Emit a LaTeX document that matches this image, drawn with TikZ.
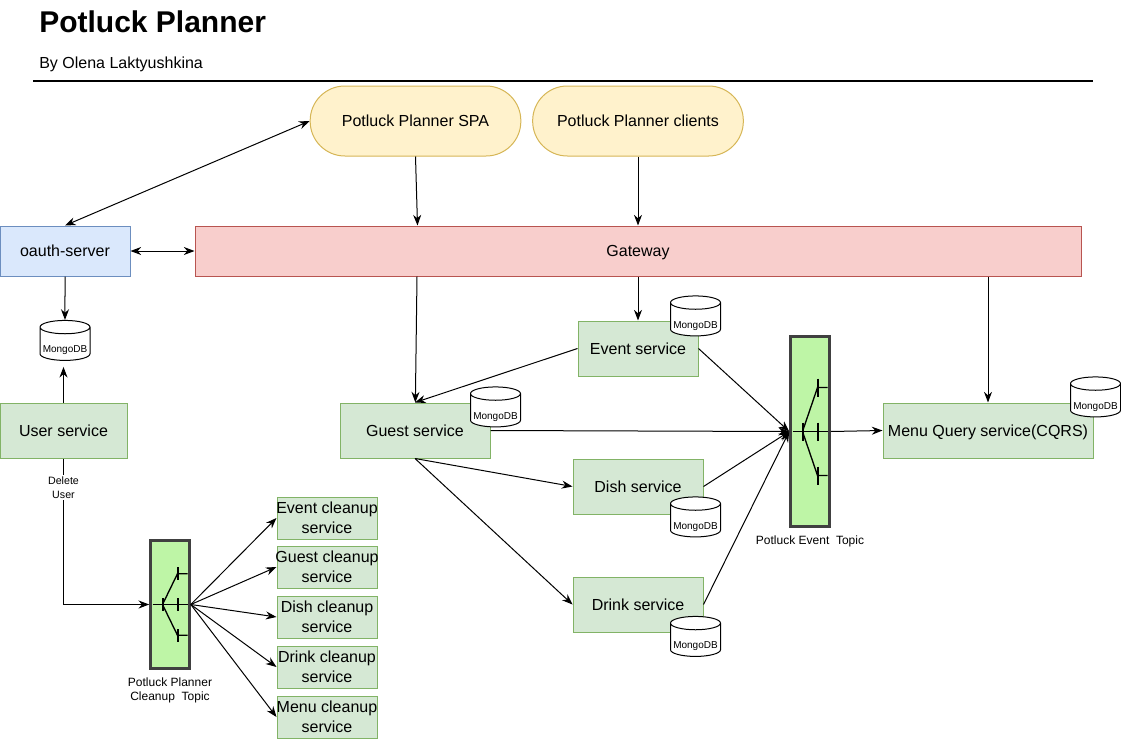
\documentclass[tikz,border=0pt]{standalone}
\usepackage{fontspec}
\setmainfont{Liberation Sans}
\usetikzlibrary{arrows.meta,shapes.geometric}
\newcommand{\overwide}[1]{\makebox[0pt]{#1}}
\newcommand{\dblabel}{\raisebox{-6.5pt}[0pt][0pt]{MongoDB}}
\tikzset{
  box/.style={draw, line width=0.75pt, inner sep=0pt, align=center, text depth=0pt, font=\fontsize{12}{15}\selectfont},
  service/.style={box, fill=svcfill, draw=svcline},
  cleanup/.style={service, minimum width=75pt, minimum height=31.5pt, text depth=-1.5pt},
  client/.style={box, fill=clientfill, draw=clientline, minimum width=158pt, minimum height=52.5pt, rounded corners=26pt},
  mongo/.style={cylinder, shape border rotate=90, aspect=0.3, draw, fill=white, line width=0.75pt, inner sep=0pt,
    minimum width=37.5pt, minimum height=30pt, font=\fontsize{7.5}{9}\selectfont},
  topic/.style={draw=black!75, line width=2.2pt, fill=topicfill, minimum width=29pt, inner sep=0pt},
  caption/.style={align=center, inner sep=0pt, font=\fontsize{9}{10.5}\selectfont},
  flow/.style={-{Stealth[length=8pt,width=6pt]}, line width=0.75pt},
  twoway/.style={{Stealth[length=8pt,width=6pt]}-{Stealth[length=8pt,width=6pt]}, line width=0.75pt},
  topicicon/.pic={
    \draw[line width=1.1pt] (-17.5,0) -- (17.5,0);
    \draw[line width=1.5pt] (-7.5,-9) -- (-7.5,9);
    \draw[line width=1.5pt] (7.5,-9) -- (7.5,9);
    \draw[line width=1.5pt] (7.5,-53) -- (7.5,-35);
    \draw[line width=1.5pt] (7.5,35) -- (7.5,53);
    \draw[line width=1pt] (-7.5,0) -- (7.5,-44) -- (17.5,-44);
    \draw[line width=1pt] (-7.5,0) -- (7.5,44) -- (17.5,44);
  }
}
\definecolor{svcfill}{HTML}{D5E8D4}
\definecolor{svcline}{HTML}{82B366}
\definecolor{clientfill}{HTML}{FFF2CC}
\definecolor{clientline}{HTML}{D6B656}
\definecolor{authfill}{HTML}{DAE8FC}
\definecolor{authline}{HTML}{6C8EBF}
\definecolor{gatefill}{HTML}{F8CECC}
\definecolor{gateline}{HTML}{B85450}
\definecolor{topicfill}{HTML}{BEF5A6}
\begin{document}
\begin{tikzpicture}[x=0.75pt, y=-0.75pt]

  \useasboundingbox (0,0) rectangle (1121,739);

  % Define nodes
  \node[anchor=west, inner sep=0pt, font=\bfseries\fontsize{22.5}{27}\selectfont] (title) at (39,22) {Potluck Planner};
  \node[anchor=west, inner sep=0pt, font=\fontsize{12}{15}\selectfont] (author) at (39,64.5) {By Olena Laktyushkina};
  \coordinate (ruleL) at (33,81);
  \coordinate (ruleR) at (1093,81);

  \node[client] (spa) at (415.5,121) {Potluck Planner SPA};
  \node[client] (clients) at (638,121) {Potluck Planner clients};
  \node[box, fill=authfill, draw=authline, minimum width=97.5pt, minimum height=37.5pt] (oauth) at (65,251) {oauth-server};
  \node[box, fill=gatefill, draw=gateline, minimum width=664.5pt, minimum height=37.5pt] (gateway) at (638,251) {Gateway};

  \node[service, minimum width=95.25pt, minimum height=41.25pt] (user) at (63.5,430.5) {User service};
  \node[service, minimum width=112.5pt, minimum height=41.25pt] (guest) at (415,430.5) {Guest service};
  \node[service, minimum width=90pt, minimum height=41.25pt] (event) at (638,348.5) {Event service};
  \node[service, minimum width=97.5pt, minimum height=41.25pt] (dish) at (638,486.5) {Dish service};
  \node[service, minimum width=97.5pt, minimum height=41.25pt] (drink) at (638,604.5) {Drink service};
  \node[service, minimum width=157.5pt, minimum height=41.25pt] (menu) at (988,430.5) {Menu Query service(CQRS)};

  \node[mongo] (mongoUser) at (65,344) {\dblabel};
  \node[mongo] (mongoGuest) at (495.5,410.5) {\dblabel};
  \node[mongo] (mongoEvent) at (695.5,319.5) {\dblabel};
  \node[mongo] (mongoDish) at (695.5,520.5) {\dblabel};
  \node[mongo] (mongoDrink) at (695.5,640) {\dblabel};
  \node[mongo] (mongoMenu) at (1095.5,400.5) {\dblabel};

  \node[topic, minimum height=143pt] (topicEvent) at (810,431.5) {};
  \node[topic, minimum height=96.5pt] (topicCleanup) at (170,604.5) {};
  \pic at (topicEvent.center) {topicicon};
  \pic[yscale=0.7] at (topicCleanup.center) {topicicon};
  \node[caption] (captionEvent) at (810,541) {Potluck Event\ \ Topic};
  \node[caption] (captionCleanup) at (170,690.5) {Potluck Planner\\Cleanup\ \ Topic};

  \node[cleanup] (cleanEvent) at (327,518) {\overwide{Event cleanup}\\service};
  \node[cleanup] (cleanGuest) at (327,567) {\overwide{Guest cleanup}\\service};
  \node[cleanup] (cleanDish) at (327,617) {\overwide{Dish cleanup}\\service};
  \node[cleanup] (cleanDrink) at (327,667) {\overwide{Drink cleanup}\\service};
  \node[cleanup] (cleanMenu) at (327,717) {\overwide{Menu cleanup}\\service};

  % Connect the nodes
  \draw[line width=1.5pt] (ruleL) -- (ruleR);
  \draw[twoway] (spa.west) -- (oauth.north);
  \draw[twoway] (oauth) -- (gateway);
  \draw[flow] (spa.south) -- ([xshift=1.5pt]spa.south |- gateway.north);
  \draw[flow] (clients) -- (clients |- gateway.north);
  \draw[flow] (oauth) -- (mongoUser);
  \draw[flow, shorten >=4.5pt] (user) -- (user |- mongoUser.south);
  \draw[flow] ([xshift=1.5pt]guest |- gateway.south) -- (guest);
  \draw[flow] (event |- gateway.south) -- (event);
  \draw[flow] (menu |- gateway.south) -- (menu);
  \draw[flow] (event.west) -- (guest.north);
  \draw[flow] (guest.south) -- (dish.west);
  \draw[flow] (guest.south) -- (drink.west);
  \draw[flow] (guest.east) -- (topicEvent.west);
  \draw[flow] (event.east) -- (topicEvent.west);
  \draw[flow] (dish.east) -- (topicEvent.west);
  \draw[flow] (drink.east) -- (topicEvent.west);
  \draw[flow] (topicEvent.east) -- (menu.west);
  \draw[flow] (user.south) |- (topicCleanup.west)
    node[pos=0.1, fill=white, inner sep=1pt, align=center, font=\fontsize{8}{10.5}\selectfont] (deleteUser) {Delete\\User};
  \draw[flow] (topicCleanup.east) -- (cleanEvent.west);
  \draw[flow] (topicCleanup.east) -- (cleanGuest.west);
  \draw[flow] (topicCleanup.east) -- (cleanDish.west);
  \draw[flow] (topicCleanup.east) -- (cleanDrink.west);
  \draw[flow] (topicCleanup.east) -- (cleanMenu.west);

\end{tikzpicture}
\end{document}
